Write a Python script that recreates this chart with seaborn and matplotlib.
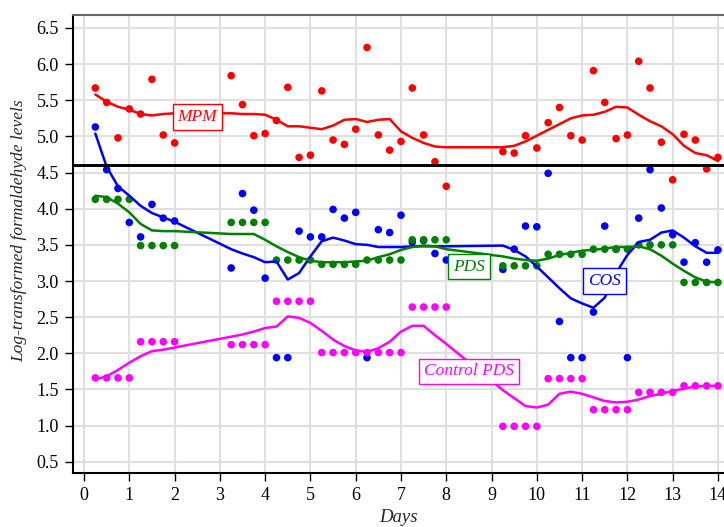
import pandas as pd
import matplotlib
matplotlib.use("Agg")
import matplotlib.pyplot as plt
import seaborn as sns

# sampling days (four samples per day, no samples on days 2-3 and 8-9)
days = [0.25, 0.5, 0.75, 1.0, 1.25, 1.5, 1.75, 2.0,
        3.25, 3.5, 3.75, 4.0, 4.25, 4.5, 4.75, 5.0,
        5.25, 5.5, 5.75, 6.0, 6.25, 6.5, 6.75, 7.0,
        7.25, 7.5, 7.75, 8.0, 9.25, 9.5, 9.75, 10.0,
        10.25, 10.5, 10.75, 11.0, 11.25, 11.5, 11.75, 12.0,
        12.25, 12.5, 12.75, 13.0, 13.25, 13.5, 13.75, 14.0]

# measured values
mpm_pts = [5.67, 5.47, 4.98, 5.38, 5.31, 5.79, 5.02, 4.91,
           5.84, 5.44, 5.01, 5.04, 5.22, 5.68, 4.71, 4.74,
           5.63, 4.95, 4.89, 5.10, 6.23, 5.02, 4.81, 4.93,
           5.67, 5.02, 4.65, 4.31, 4.79, 4.77, 5.01, 4.84,
           5.19, 5.40, 5.01, 4.95, 5.91, 5.47, 4.97, 5.02,
           6.04, 5.67, 4.92, 4.40, 5.03, 4.95, 4.55, 4.71]
cos_pts = [5.13, 4.54, 4.28, 3.81, 3.61, 4.06, 3.87, 3.83,
           3.18, 4.21, 3.98, 3.04, 1.94, 1.94, 3.69, 3.61,
           3.61, 3.99, 3.87, 3.95, 1.94, 3.71, 3.67, 3.91,
           3.54, 3.56, 3.38, 3.29, 3.16, 3.44, 3.76, 3.75,
           4.49, 2.44, 1.94, 1.94, 2.57, 3.76, 3.44, 1.94,
           3.87, 4.54, 4.01, 3.64, 3.26, 3.53, 3.26, 3.43]
pds_pts = [4.13, 4.13, 4.13, 4.13, 3.49, 3.49, 3.49, 3.49,
           3.81, 3.81, 3.81, 3.81, 3.29, 3.29, 3.29, 3.29,
           3.23, 3.23, 3.23, 3.23, 3.29, 3.29, 3.29, 3.29,
           3.57, 3.57, 3.57, 3.57, 3.21, 3.21, 3.21, 3.21,
           3.37, 3.37, 3.37, 3.37, 3.44, 3.44, 3.44, 3.44,
           3.50, 3.50, 3.50, 3.50, 2.98, 2.98, 2.98, 2.98]
ctrl_pts = [1.66, 1.66, 1.66, 1.66, 2.16, 2.16, 2.16, 2.16,
            2.12, 2.12, 2.12, 2.12, 2.72, 2.72, 2.72, 2.72,
            2.01, 2.01, 2.01, 2.01, 2.01, 2.01, 2.01, 2.01,
            2.64, 2.64, 2.64, 2.64, 0.99, 0.99, 0.99, 0.99,
            1.65, 1.65, 1.65, 1.65, 1.22, 1.22, 1.22, 1.22,
            1.46, 1.46, 1.46, 1.46, 1.55, 1.55, 1.55, 1.55]

# smoothed trend curves (same days)
mpm_fit = [5.58, 5.48, 5.41, 5.37, 5.31, 5.29, 5.31, 5.32,
           5.32, 5.31, 5.31, 5.30, 5.23, 5.14, 5.14, 5.12,
           5.10, 5.15, 5.23, 5.24, 5.20, 5.23, 5.24, 5.07,
           4.98, 4.91, 4.86, 4.85, 4.85, 4.87, 4.93, 5.01,
           5.09, 5.17, 5.25, 5.29, 5.30, 5.34, 5.41, 5.40,
           5.30, 5.21, 5.14, 5.03, 4.87, 4.77, 4.74, 4.66]
cos_fit = [5.04, 4.58, 4.31, 4.18, 4.04, 3.94, 3.88, 3.82,
           3.44, 3.38, 3.33, 3.26, 3.27, 3.02, 3.11, 3.34,
           3.55, 3.60, 3.56, 3.51, 3.50, 3.47, 3.47, 3.47,
           3.48, 3.48, 3.48, 3.48, 3.49, 3.43, 3.34, 3.20,
           3.05, 2.90, 2.76, 2.69, 2.63, 2.77, 3.11, 3.36,
           3.54, 3.57, 3.67, 3.70, 3.60, 3.48, 3.39, 3.39]
pds_fit = [4.18, 4.16, 4.07, 3.95, 3.79, 3.70, 3.69, 3.69,
           3.65, 3.65, 3.65, 3.57, 3.48, 3.40, 3.33, 3.28,
           3.26, 3.26, 3.26, 3.27, 3.28, 3.33, 3.37, 3.43,
           3.47, 3.49, 3.48, 3.44, 3.34, 3.31, 3.29, 3.28,
           3.31, 3.36, 3.39, 3.42, 3.43, 3.45, 3.47, 3.47,
           3.48, 3.44, 3.35, 3.24, 3.14, 3.05, 2.99, 2.98]
ctrl_fit = [1.64, 1.68, 1.77, 1.87, 1.96, 2.03, 2.05, 2.08,
            2.23, 2.26, 2.30, 2.35, 2.37, 2.51, 2.49, 2.42,
            2.31, 2.19, 2.10, 2.04, 2.02, 2.07, 2.16, 2.30,
            2.38, 2.38, 2.25, 2.13, 1.49, 1.38, 1.27, 1.25,
            1.29, 1.44, 1.47, 1.44, 1.39, 1.34, 1.32, 1.33,
            1.36, 1.41, 1.44, 1.48, 1.51, 1.54, 1.55, 1.55]

groups = ["MPM", "COS", "PDS", "Control PDS"]
colors = {"MPM": "#ff0000", "COS": "#0000ff", "PDS": "#008000", "Control PDS": "#ff00ff"}
# label box positions (day, level)
label_pos = {"MPM": (2.5, 5.27), "COS": (11.5, 3.0), "PDS": (8.5, 3.2), "Control PDS": (8.5, 1.75)}
threshold = 4.6

pts_list = [mpm_pts, cos_pts, pds_pts, ctrl_pts]
fit_list = [mpm_fit, cos_fit, pds_fit, ctrl_fit]
points = pd.concat([pd.DataFrame({"day": days, "level": v, "group": g})
                    for g, v in zip(groups, pts_list)], ignore_index=True)
curves = pd.concat([pd.DataFrame({"day": days, "level": v, "group": g})
                    for g, v in zip(groups, fit_list)], ignore_index=True)

sns.set_theme(style="whitegrid")
plt.rcParams["font.family"] = ["Liberation Serif", "DejaVu Serif"]

fig = plt.figure(figsize=(7.24, 5.27), dpi=100)
ax = fig.add_axes([0.1004, 0.1019, 0.9, 0.8697])

sns.scatterplot(data=points, x="day", y="level", hue="group", hue_order=groups,
                palette=colors, s=30, linewidth=0, legend=False, ax=ax, zorder=3)
sns.lineplot(data=curves, x="day", y="level", hue="group", hue_order=groups,
             palette=colors, estimator=None, sort=False, lw=1.8, legend=False,
             ax=ax, zorder=4)
ax.axhline(threshold, color="black", lw=2.1, zorder=5)

for g in groups:
    x, y = label_pos[g]
    ax.text(x, y, g, color=colors[g], fontsize=12.5, style="italic",
            ha="center", va="center", zorder=6,
            bbox=dict(boxstyle="square,pad=0.28", fc="white", ec=colors[g], lw=1))

ax.set_xlim(-0.25, 14.14)
ax.set_ylim(0.34, 6.68)
ax.set_xticks(range(0, 15))
ax.set_yticks([0.5 + 0.5 * i for i in range(13)])
ax.set_yticklabels([f"{0.5 + 0.5 * i:.1f}" for i in range(13)])
ax.grid(True, color="#e0e0e0", lw=1.5)
ax.set_axisbelow(True)

for side in ["left", "bottom"]:
    ax.spines[side].set_color("black")
    ax.spines[side].set_linewidth(1.5)
ax.spines["top"].set_color("#666666")
ax.spines["top"].set_linewidth(1.5)
ax.spines["right"].set_visible(False)

ax.tick_params(axis="both", which="major", direction="out", length=6, width=1,
               color="black", labelsize=13, labelcolor="black",
               bottom=True, left=True, pad=4)

ax.set_xlabel("Days", fontsize=13.5, style="italic")
ax.set_ylabel("Log-transformed formaldehyde levels", fontsize=12.5, style="italic")
ax.xaxis.set_label_coords(0.5, -0.077)
ax.yaxis.set_label_coords(-0.07, 0.53)

fig.savefig("out.png", dpi=100)
